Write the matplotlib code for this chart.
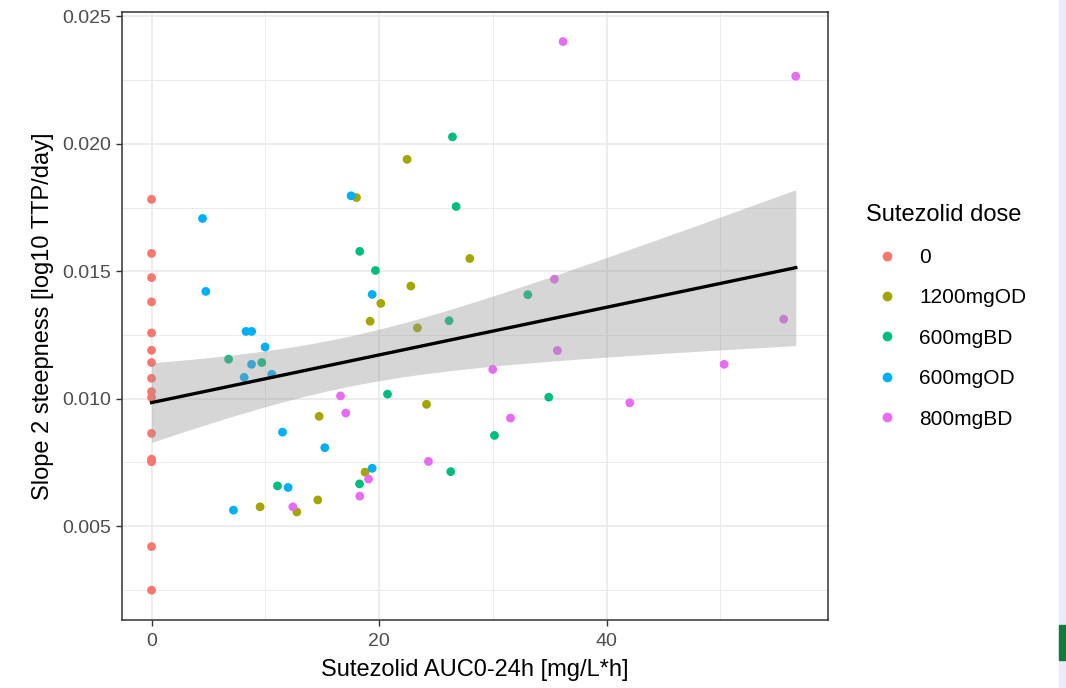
import numpy as np
import matplotlib
matplotlib.use("Agg")
import matplotlib.pyplot as plt
from matplotlib.lines import Line2D
from matplotlib.patches import Rectangle

plt.rcParams['font.family'] = ['Liberation Sans', 'DejaVu Sans']

# dose groups and their ggplot hue colours
doses = ["0", "1200mgOD", "600mgBD", "600mgOD", "800mgBD"]
colors = ["#F8766D", "#A3A500", "#00BF7D", "#00B0F6", "#E76BF3"]

# AUC0-24h (x) and slope 2 steepness (y)
auc_0 = [0] * 15
slope_0 = [0.01782, 0.01570, 0.01475, 0.01380, 0.01258, 0.01190, 0.01142, 0.01080,
           0.01028, 0.01005, 0.00864, 0.00763, 0.00753, 0.00420, 0.00249]

auc_1200od = [22.46, 18.01, 27.97, 22.79, 20.15, 19.21, 23.37, 24.17, 14.73, 18.77,
              14.61, 9.54, 12.77]
slope_1200od = [0.01939, 0.01789, 0.01550, 0.01442, 0.01374, 0.01304, 0.01278, 0.00978,
                0.00931, 0.00712, 0.00603, 0.00576, 0.00556]

auc_600bd = [26.45, 26.77, 18.30, 19.68, 33.07, 26.15, 6.77, 9.69, 20.74, 26.30,
             18.28, 11.07, 34.91, 30.14]
slope_600bd = [0.02027, 0.01754, 0.01578, 0.01503, 0.01408, 0.01306, 0.01155, 0.01142,
               0.01018, 0.00714, 0.00666, 0.00658, 0.01006, 0.00856]

auc_600od = [4.48, 17.54, 4.77, 19.39, 8.30, 8.80, 9.98, 8.79, 8.14, 10.57, 11.51,
             15.23, 19.39, 12.00, 7.20]
slope_600od = [0.01707, 0.01796, 0.01421, 0.01409, 0.01264, 0.01264, 0.01203, 0.01135,
               0.01084, 0.01096, 0.00869, 0.00808, 0.00727, 0.00652, 0.00563]

auc_800bd = [36.17, 56.62, 35.41, 55.56, 35.67, 29.99, 50.32, 31.55, 42.03, 16.61,
             17.07, 24.34, 19.07, 18.30, 12.42]
slope_800bd = [0.02401, 0.02265, 0.01469, 0.01312, 0.01189, 0.01115, 0.01135, 0.00924,
               0.00984, 0.01011, 0.00944, 0.00754, 0.00685, 0.00618, 0.00576]

groups_x = [auc_0, auc_1200od, auc_600bd, auc_600od, auc_800bd]
groups_y = [slope_0, slope_1200od, slope_600bd, slope_600od, slope_800bd]

fig = plt.figure(figsize=(10.66, 6.88), dpi=100)
ax = fig.add_axes([0.1144, 0.0988, 0.6623, 0.8838])

for gx, gy, c in zip(groups_x, groups_y, colors):
    ax.scatter(gx, gy, s=40, color=c, edgecolors='none', zorder=3)

# linear fit with 95% confidence band (like geom_smooth(method="lm"))
x_all = np.concatenate([np.asarray(g, float) for g in groups_x])
y_all = np.concatenate([np.asarray(g, float) for g in groups_y])
n = len(x_all)
b, a = np.polyfit(x_all, y_all, 1)
resid = y_all - (a + b * x_all)
s = np.sqrt(np.sum(resid ** 2) / (n - 2))
sxx = np.sum((x_all - x_all.mean()) ** 2)
xs = np.linspace(x_all.min(), x_all.max(), 80)
fit = a + b * xs
se = s * np.sqrt(1 / n + (xs - x_all.mean()) ** 2 / sxx)
t = 1.994
ax.fill_between(xs, fit - t * se, fit + t * se, color='#999999', alpha=0.4,
                linewidth=0, zorder=4)
ax.plot(xs, fit, color='black', lw=2.4, zorder=5)

ax.set_xlim(-2.6, 59.45)
ax.set_ylim(0.00132, 0.02517)
ax.set_xticks([0, 20, 40])
ax.set_xticks([10, 30, 50], minor=True)
ax.set_yticks([0.005, 0.010, 0.015, 0.020, 0.025])
ax.set_yticks([0.0025, 0.0075, 0.0125, 0.0175, 0.0225], minor=True)
ax.set_yticklabels(["0.005", "0.010", "0.015", "0.020", "0.025"])
ax.grid(True, which='major', color='#ebebeb', lw=1.3, zorder=0)
ax.grid(True, which='minor', color='#ebebeb', lw=0.7, zorder=0)
ax.set_axisbelow(True)
ax.tick_params(which='major', length=4, width=1, color='#333333',
               labelsize=14, labelcolor='#4d4d4d')
ax.tick_params(axis='x', which='major', pad=5)
ax.tick_params(which='minor', length=0)
for sp in ax.spines.values():
    sp.set_color('#333333')
    sp.set_linewidth(1.1)

ax.set_xlabel("Sutezolid AUC0-24h [mg/L*h]", fontsize=17, labelpad=7)
ax.set_ylabel("Slope 2 steepness [log10 TTP/day]", fontsize=17, labelpad=6)

handles = [Line2D([], [], marker='o', ls='none', color=c, markersize=6) for c in colors]
leg = fig.legend(handles, doses, title="Sutezolid dose", loc='upper left',
                 bbox_to_anchor=(0.8045, 0.715), frameon=False, fontsize=15,
                 title_fontsize=17, labelspacing=1.03, handletextpad=0.55,
                 borderaxespad=0, handlelength=2.0)
leg._legend_box.align = "left"

# strip of another picture at the right edge
fig.patches.append(Rectangle((0.9935, 0), 0.0065, 1, transform=fig.transFigure,
                             color='#e9ecf7', zorder=-1))
fig.patches.append(Rectangle((0.9935, 0.04), 0.0065, 0.052, transform=fig.transFigure,
                             color='#127a3a', zorder=-1))

fig.savefig("out.png", dpi=100)
